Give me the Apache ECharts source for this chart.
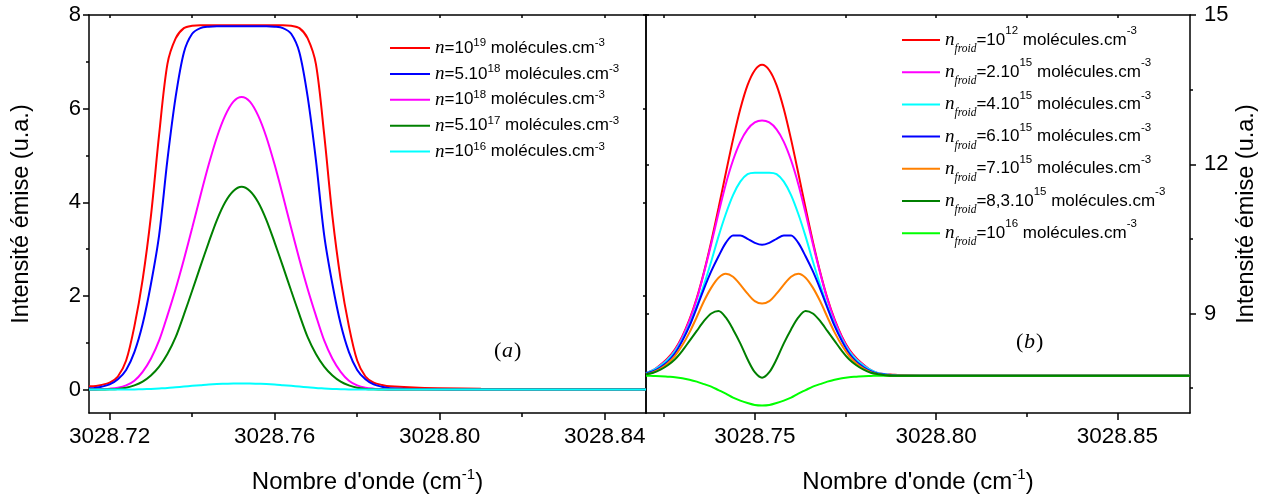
<!DOCTYPE html>
<html><head><meta charset="utf-8">
<script src="https://cdn.jsdelivr.net/npm/echarts@6/dist/echarts.min.js"></script>
<style>html,body{margin:0;padding:0;background:#fff}#c{width:1274px;height:499px}</style>
</head><body><div id="c"></div>
<script>
// ---------- Panel (a) data ----------
const xA = [3028.715, 3028.716, 3028.718, 3028.720, 3028.722, 3028.724, 3028.726, 3028.728, 3028.730, 3028.732,
  3028.734, 3028.736, 3028.738, 3028.740, 3028.742, 3028.744, 3028.746, 3028.748, 3028.750, 3028.752,
  3028.754, 3028.756, 3028.758, 3028.760, 3028.762, 3028.764, 3028.766, 3028.768, 3028.770, 3028.772,
  3028.774, 3028.776, 3028.778, 3028.780, 3028.782, 3028.784, 3028.786, 3028.788, 3028.795, 3028.810,
  3028.830, 3028.850];
const yA_1e19 = [0.07, 0.07, 0.10, 0.15, 0.28, 0.62, 1.35, 2.35, 3.70, 5.45, 6.95, 7.50, 7.72, 7.77,
  7.78, 7.78, 7.78, 7.78, 7.78, 7.78, 7.78, 7.78, 7.78, 7.78, 7.78,
  7.77, 7.72, 7.50, 6.95, 5.45, 3.70, 2.35, 1.35, 0.62, 0.28, 0.15, 0.10, 0.07, 0.04, 0.02, 0.01, 0.01];
const yA_5e18 = [0.03, 0.03, 0.06, 0.11, 0.22, 0.42, 0.80, 1.40, 2.25, 3.30, 4.90, 6.25, 7.20, 7.60,
  7.72, 7.75, 7.76, 7.76, 7.76, 7.76, 7.76, 7.76, 7.76, 7.75, 7.72,
  7.60, 7.20, 6.25, 4.90, 3.30, 2.25, 1.40, 0.80, 0.42, 0.22, 0.11, 0.06, 0.03, 0.01, 0, 0, 0];
const yA_1e18 = [0, 0, 0.01, 0.02, 0.04, 0.09, 0.19, 0.38, 0.66, 1.05, 1.58, 2.15, 2.78, 3.45,
  4.14, 4.80, 5.39, 5.85, 6.15, 6.25, 6.15, 5.85, 5.39, 4.80, 4.14,
  3.45, 2.78, 2.15, 1.58, 1.05, 0.66, 0.38, 0.19, 0.09, 0.04, 0.02, 0.01, 0, 0, 0, 0, 0];
const yA_5e17 = [0, 0, 0, 0.005, 0.015, 0.04, 0.09, 0.17, 0.30, 0.49, 0.76, 1.12, 1.60, 2.11,
  2.63, 3.14, 3.62, 4.00, 4.24, 4.33, 4.24, 4.00, 3.62, 3.14, 2.63,
  2.11, 1.60, 1.12, 0.76, 0.49, 0.30, 0.17, 0.09, 0.04, 0.015, 0.005, 0, 0, 0, 0, 0, 0];
const yA_1e16 = [0, 0, 0, 0, 0, 0, 0.003, 0.008, 0.015, 0.025, 0.035, 0.05, 0.065, 0.08,
  0.095, 0.11, 0.12, 0.125, 0.13, 0.13, 0.13, 0.125, 0.12, 0.11, 0.095,
  0.08, 0.065, 0.05, 0.035, 0.025, 0.015, 0.008, 0.003, 0, 0, 0, 0, 0, 0, 0, 0, 0];
const namesA = ['n=10^19 molécules.cm^-3', 'n=5.10^18 molécules.cm^-3', 'n=10^18 molécules.cm^-3',
  'n=5.10^17 molécules.cm^-3', 'n=10^16 molécules.cm^-3'];
const ticksXA = [3028.72, 3028.76, 3028.80, 3028.84];
const minorXA = [3028.74, 3028.78, 3028.82];
const ticksYA = [0, 2, 4, 6, 8];
const minorYA = [1, 3, 5, 7];

// ---------- Panel (b) data ----------
const xB = [3028.720, 3028.722, 3028.724, 3028.726, 3028.728, 3028.730, 3028.732, 3028.734, 3028.736, 3028.738,
  3028.740, 3028.742, 3028.744, 3028.746, 3028.748, 3028.750, 3028.752, 3028.754, 3028.756, 3028.758,
  3028.760, 3028.762, 3028.764, 3028.766, 3028.768, 3028.770, 3028.772, 3028.774, 3028.776, 3028.778,
  3028.780, 3028.782, 3028.784, 3028.786, 3028.788, 3028.790, 3028.800, 3028.820, 3028.850, 3028.870];
const yB_1e12 = [7.80, 7.86, 7.97, 8.10, 8.28, 8.54, 8.88, 9.31, 9.84, 10.45, 11.12, 11.82, 12.50, 13.11, 13.59, 13.89,
  14.00, 13.89, 13.59, 13.11, 12.50, 11.82, 11.12, 10.45, 9.84, 9.31, 8.88, 8.54, 8.28, 8.10, 7.97, 7.86, 7.80,
  7.78, 7.77, 7.76, 7.75, 7.75, 7.75, 7.75];
const yB_2e15 = [7.80, 7.86, 7.96, 8.08, 8.26, 8.52, 8.86, 9.29, 9.82, 10.40, 11.02, 11.60, 12.08, 12.45, 12.70, 12.84,
  12.88, 12.84, 12.70, 12.45, 12.08, 11.60, 11.02, 10.40, 9.82, 9.29, 8.86, 8.52, 8.26, 8.08, 7.96, 7.86, 7.80,
  7.78, 7.76, 7.75, 7.75, 7.75, 7.75, 7.75];
const yB_4e15 = [7.80, 7.86, 7.95, 8.07, 8.24, 8.48, 8.78, 9.15, 9.58, 10.05, 10.55, 11.00, 11.38, 11.65, 11.80, 11.83,
  11.83, 11.83, 11.80, 11.65, 11.38, 11.00, 10.55, 10.05, 9.58, 9.15, 8.78, 8.48, 8.24, 8.07, 7.95, 7.86, 7.80,
  7.78, 7.76, 7.75, 7.75, 7.75, 7.75, 7.75];
const yB_6e15 = [7.79, 7.84, 7.92, 8.03, 8.20, 8.45, 8.75, 9.12, 9.50, 9.85, 10.15, 10.42, 10.57, 10.57, 10.50, 10.42,
  10.38, 10.42, 10.50, 10.57, 10.57, 10.42, 10.15, 9.85, 9.50, 9.12, 8.75, 8.45, 8.20, 8.03, 7.92, 7.84, 7.79,
  7.77, 7.76, 7.75, 7.75, 7.75, 7.75, 7.75];
const yB_7e15 = [7.78, 7.82, 7.89, 8.00, 8.15, 8.36, 8.62, 8.93, 9.25, 9.52, 9.72, 9.80, 9.74, 9.58, 9.40, 9.25,
  9.20, 9.25, 9.40, 9.58, 9.74, 9.80, 9.72, 9.52, 9.25, 8.93, 8.62, 8.36, 8.15, 8.00, 7.89, 7.82, 7.78,
  7.76, 7.75, 7.75, 7.75, 7.75, 7.75, 7.75];
const yB_83e15 = [7.78, 7.81, 7.87, 7.96, 8.08, 8.25, 8.45, 8.65, 8.85, 9.00, 9.05, 8.92, 8.68, 8.40, 8.08, 7.82,
  7.71, 7.82, 8.08, 8.40, 8.68, 8.92, 9.05, 9.00, 8.85, 8.65, 8.45, 8.25, 8.08, 7.96, 7.87, 7.81, 7.78,
  7.76, 7.75, 7.75, 7.75, 7.75, 7.75, 7.75];
const yB_1e16 = [7.75, 7.745, 7.74, 7.73, 7.72, 7.70, 7.67, 7.63, 7.58, 7.53, 7.46, 7.39, 7.31, 7.25, 7.20, 7.16,
  7.15, 7.16, 7.20, 7.25, 7.31, 7.39, 7.46, 7.53, 7.58, 7.63, 7.67, 7.70, 7.72, 7.73, 7.74, 7.745, 7.75,
  7.75, 7.75, 7.75, 7.75, 7.75, 7.75, 7.75];
const namesB = ['n_froid=10^12 molécules.cm^-3', 'n_froid=2.10^15 molécules.cm^-3', 'n_froid=4.10^15 molécules.cm^-3',
  'n_froid=6.10^15 molécules.cm^-3', 'n_froid=7.10^15 molécules.cm^-3', 'n_froid=8,3.10^15 molécules.cm^-3',
  'n_froid=10^16 molécules.cm^-3'];
const ticksXB = [3028.75, 3028.80, 3028.85];
const minorXB = [3028.725, 3028.775, 3028.825];
const ticksYB = [9, 12, 15];
const minorYB = [7.5, 10.5, 13.5];

// ---------- styling ----------
const SANS = "'Liberation Sans', Arial, sans-serif";
const SERIF = "'Liberation Serif', 'Times New Roman', serif";
const BLACK = '#000';

function pairs(xs, ys) { return xs.map((x, i) => [x, ys[i]]); }

function richName(name) {
  let out = '';
  let rest = name;
  if (rest.startsWith('n_froid')) { out = '{i|n}{sub|froid}'; rest = rest.slice(7); }
  else { out = '{i|n}'; rest = rest.slice(1); }
  out += '{m|' + rest.replace(/\^(-?\d+)/g, '}{s|$1}{m|') + '}';
  return out.replace(/\{m\|\}/g, '');
}

const richA = {
  i: { fontFamily: SERIF, fontStyle: 'italic', fontSize: 19, lineHeight: 22, color: BLACK },
  m: { fontFamily: SANS, fontSize: 17, lineHeight: 22, color: BLACK },
  s: { fontFamily: SANS, fontSize: 11.5, lineHeight: 12, verticalAlign: 'top', color: BLACK }
};
const richB = {
  i: { fontFamily: SERIF, fontStyle: 'italic', fontSize: 19, lineHeight: 30, color: BLACK },
  sub: { fontFamily: SERIF, fontStyle: 'italic', fontSize: 11.5, lineHeight: 14, verticalAlign: 'bottom', color: BLACK },
  m: { fontFamily: SANS, fontSize: 17, lineHeight: 30, color: BLACK },
  s: { fontFamily: SANS, fontSize: 11.5, lineHeight: 18, verticalAlign: 'top', color: BLACK }
};
const richAxisName = {
  m: { fontFamily: SANS, fontSize: 24, lineHeight: 30, color: BLACK },
  s: { fontFamily: SANS, fontSize: 15, lineHeight: 16, verticalAlign: 'top', color: BLACK }
};

const lineStyle = { color: BLACK, width: 1.5 };

function mainX(grid, min, max, ticks) {
  return {
    type: 'value', gridIndex: grid, position: 'bottom', min: min, max: max,
    axisLine: { show: true, onZero: false, lineStyle: lineStyle },
    axisTick: { show: true, customValues: ticks, length: 7, lineStyle: lineStyle },
    axisLabel: { show: true, customValues: ticks, formatter: v => v.toFixed(2), fontSize: 22.5, fontFamily: SANS, color: BLACK, margin: 12 },
    splitLine: { show: false },
    name: "{m|Nombre d'onde (cm}{s|-1}{m|)}", nameLocation: 'middle', nameGap: 54,
    nameTextStyle: { rich: richAxisName }
  };
}
function minorAxisX(grid, min, max, vals) {
  return {
    type: 'value', gridIndex: grid, position: 'bottom', min: min, max: max,
    axisLine: { show: false, onZero: false },
    axisTick: { show: true, customValues: vals, length: 4, lineStyle: lineStyle },
    axisLabel: { show: false }, splitLine: { show: false }
  };
}
function topAxisX(grid, min, max, vals) {
  return {
    type: 'value', gridIndex: grid, position: 'top', min: min, max: max,
    axisLine: { show: true, onZero: false, lineStyle: lineStyle },
    axisTick: { show: true, inside: true, customValues: vals, length: 3, lineStyle: lineStyle },
    axisLabel: { show: false }, splitLine: { show: false }
  };
}
function mainY(grid, pos, min, max, ticks, margin, gap) {
  return {
    type: 'value', gridIndex: grid, position: pos, min: min, max: max,
    axisLine: { show: true, onZero: false, lineStyle: lineStyle },
    axisTick: { show: true, customValues: ticks, length: 6, lineStyle: lineStyle },
    axisLabel: { show: true, customValues: ticks, fontSize: 22, fontFamily: SANS, color: BLACK, margin: margin },
    splitLine: { show: false },
    name: 'Intensité émise (u.a.)', nameLocation: 'middle', nameRotate: 90, nameGap: gap,
    nameTextStyle: { fontSize: 23.5, fontFamily: SANS, color: BLACK }
  };
}
function minorAxisY(grid, pos, min, max, vals) {
  return {
    type: 'value', gridIndex: grid, position: pos, min: min, max: max,
    axisLine: { show: false, onZero: false },
    axisTick: { show: true, customValues: vals, length: 3, lineStyle: lineStyle },
    axisLabel: { show: false }, splitLine: { show: false }
  };
}
function frameAxisY(grid, pos, min, max, vals) {
  return {
    type: 'value', gridIndex: grid, position: pos, min: min, max: max,
    axisLine: { show: true, onZero: false, lineStyle: lineStyle },
    axisTick: { show: true, inside: true, customValues: vals, length: 3, lineStyle: lineStyle },
    axisLabel: { show: false }, splitLine: { show: false }
  };
}

const panelA = [
  { name: namesA[0], color: '#ff0000', y: yA_1e19 },
  { name: namesA[1], color: '#0000ff', y: yA_5e18 },
  { name: namesA[2], color: '#ff00ff', y: yA_1e18 },
  { name: namesA[3], color: '#008000', y: yA_5e17 },
  { name: namesA[4], color: '#00ffff', y: yA_1e16 }
];
const panelB = [
  { name: namesB[0], color: '#ff0000', y: yB_1e12 },
  { name: namesB[1], color: '#ff00ff', y: yB_2e15 },
  { name: namesB[2], color: '#00ffff', y: yB_4e15 },
  { name: namesB[3], color: '#0000ff', y: yB_6e15 },
  { name: namesB[4], color: '#ff8000', y: yB_7e15 },
  { name: namesB[6], color: '#00ff00', y: yB_1e16 },
  { name: namesB[5], color: '#007f00', y: yB_83e15 }
];

const series = [];
panelA.forEach(s => series.push({
  type: 'line', name: s.name, xAxisIndex: 0, yAxisIndex: 0, data: pairs(xA, s.y),
  showSymbol: false, symbol: 'none', smooth: 0.3, color: s.color,
  lineStyle: { color: s.color, width: 2 }, animation: false
}));
panelB.forEach(s => series.push({
  type: 'line', name: s.name, xAxisIndex: 3, yAxisIndex: 3, data: pairs(xB, s.y),
  showSymbol: false, symbol: 'none', smooth: 0.3, color: s.color,
  lineStyle: { color: s.color, width: 2 }, animation: false
}));

const option = {
  backgroundColor: '#fff',
  animation: false,
  grid: [
    { left: 89, top: 15, width: 557, height: 400 },
    { left: 646, top: 15, width: 544, height: 400 }
  ],
  xAxis: [
    mainX(0, 3028.715, 3028.85, ticksXA),
    minorAxisX(0, 3028.715, 3028.85, minorXA),
    topAxisX(0, 3028.715, 3028.85, ticksXA.concat(minorXA)),
    mainX(1, 3028.72, 3028.87, ticksXB),
    minorAxisX(1, 3028.72, 3028.87, minorXB),
    topAxisX(1, 3028.72, 3028.87, ticksXB.concat(minorXB))
  ],
  yAxis: [
    mainY(0, 'left', -0.5, 8, ticksYA, 8, 55),
    minorAxisY(0, 'left', -0.5, 8, minorYA),
    frameAxisY(0, 'right', -0.5, 8, ticksYA),
    mainY(1, 'right', 7, 15, ticksYB, 14, 45),
    minorAxisY(1, 'right', 7, 15, minorYB),
    frameAxisY(1, 'left', 7, 15, ticksYB)
  ],
  legend: [
    {
      data: namesA, orient: 'vertical', left: 385, top: 32, itemWidth: 40, itemHeight: 2, itemGap: 5.4,
      icon: 'rect', selectedMode: false, formatter: richName, textStyle: { rich: richA }
    },
    {
      data: namesB, orient: 'vertical', left: 897, top: 20, itemWidth: 38, itemHeight: 2, itemGap: 2.2,
      icon: 'rect', selectedMode: false, formatter: richName, textStyle: { rich: richB }
    }
  ],
  graphic: [
    { type: 'text', left: 494, top: 340, style: { text: '(', fontSize: 22, fontFamily: SERIF, fill: BLACK } },
    { type: 'text', left: 502, top: 340, style: { text: 'a', fontSize: 22, fontFamily: SERIF, fontStyle: 'italic', fill: BLACK } },
    { type: 'text', left: 514, top: 340, style: { text: ')', fontSize: 22, fontFamily: SERIF, fill: BLACK } },
    { type: 'text', left: 1016, top: 331, style: { text: '(', fontSize: 22, fontFamily: SERIF, fill: BLACK } },
    { type: 'text', left: 1024, top: 331, style: { text: 'b', fontSize: 22, fontFamily: SERIF, fontStyle: 'italic', fill: BLACK } },
    { type: 'text', left: 1036, top: 331, style: { text: ')', fontSize: 22, fontFamily: SERIF, fill: BLACK } }
  ],
  series: series
};

const chart = echarts.init(document.getElementById('c'), null, { renderer: 'canvas' });
chart.setOption(option);
</script>
</body></html>
